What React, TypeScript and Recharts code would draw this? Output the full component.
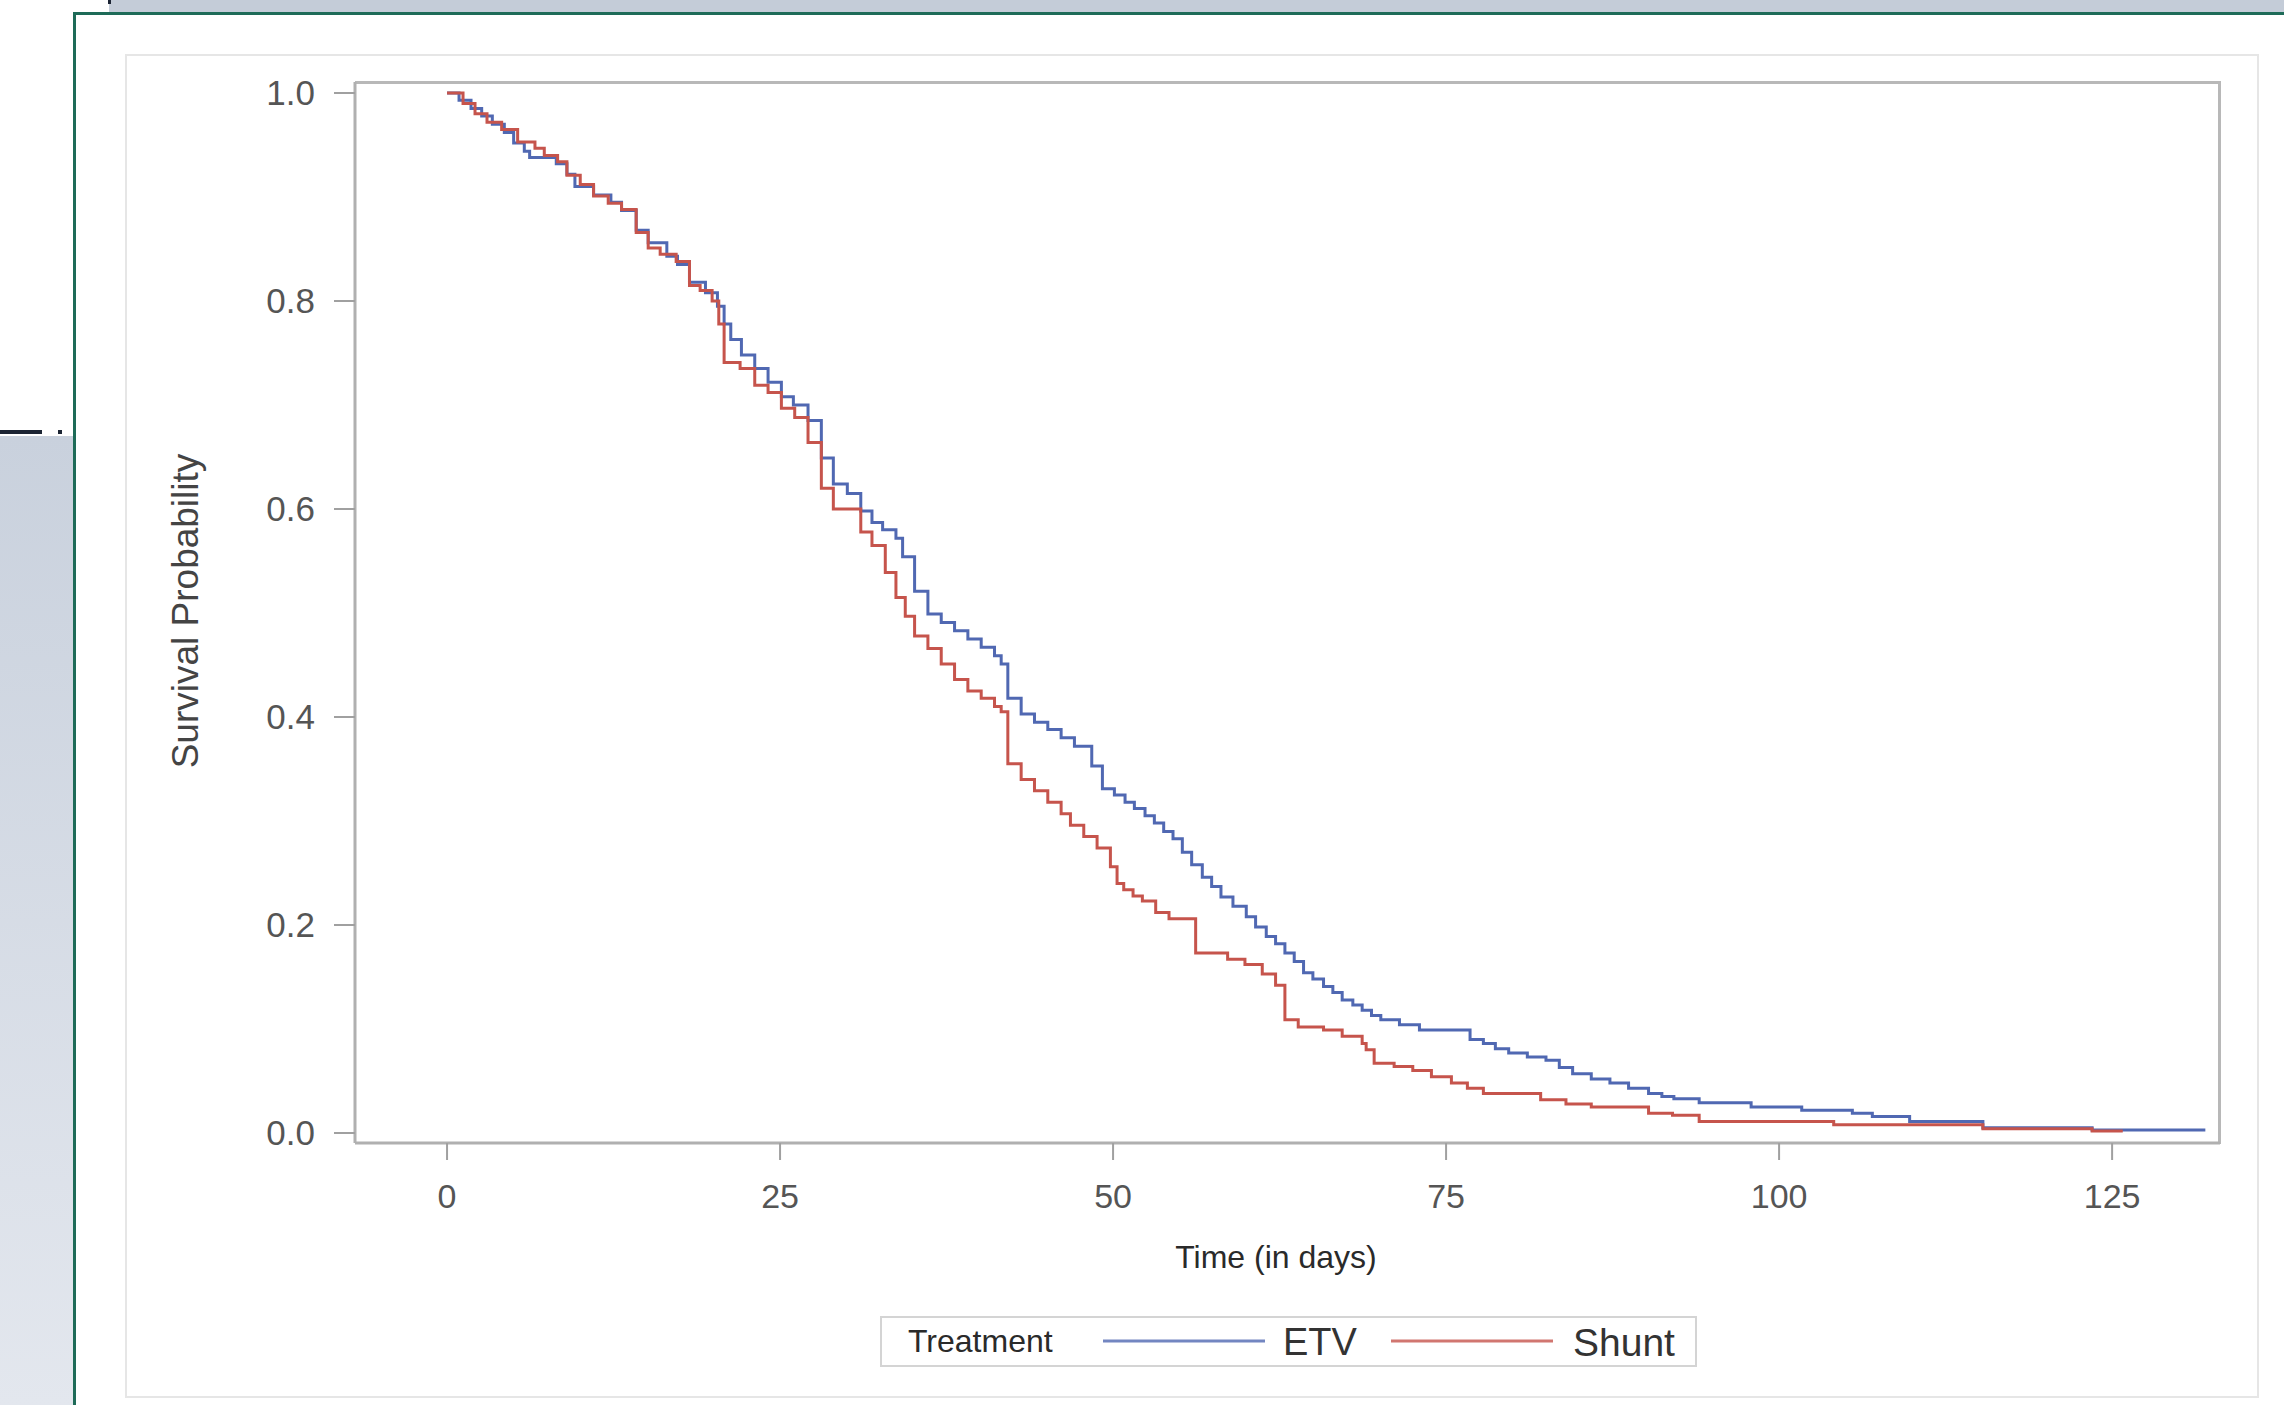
import React from 'react';
import { LineChart, Line, XAxis, YAxis, Legend } from 'recharts';

// ---- data ----
const etvTimes = [0, 0.9, 1.8, 2.6, 3.4, 4.3, 5.0, 5.8, 6.2, 8.2, 9.0, 9.6, 11.0, 12.3, 13.1, 14.2, 15.1, 16.5, 17.3, 18.2, 19.4, 20.3, 20.8, 21.3, 22.1, 23.1, 24.1, 25.1, 26.0, 27.1, 28.1, 29.0, 30.05, 31.06, 31.9, 32.7, 33.7, 34.2, 35.1, 36.1, 37.1, 38.1, 39.1, 40.1, 41.1, 41.6, 42.1, 43.1, 44.1, 45.1, 46.1, 47.1, 48.4, 49.2, 50.1, 50.9, 51.6, 52.4, 53.1, 53.8, 54.5, 55.2, 55.9, 56.7, 57.4, 58.1, 59.0, 60.0, 60.7, 61.5, 62.2, 62.9, 63.6, 64.3, 65.0, 65.8, 66.5, 67.2, 68.0, 68.7, 69.4, 70.1, 71.5, 73.0, 76.8, 77.8, 78.7, 79.7, 81.1, 82.5, 83.5, 84.5, 85.9, 87.3, 88.7, 90.2, 91.2, 92.1, 94.0, 97.9, 101.7, 105.5, 107.0, 109.8, 115.3, 123.5, 132.0];
const etvSurvival = [1.0, 0.993, 0.985, 0.978, 0.97, 0.962, 0.952, 0.944, 0.938, 0.932, 0.922, 0.91, 0.902, 0.895, 0.887, 0.868, 0.856, 0.843, 0.835, 0.818, 0.808, 0.795, 0.778, 0.763, 0.748, 0.735, 0.722, 0.708, 0.7, 0.685, 0.649, 0.624, 0.615, 0.598, 0.587, 0.58, 0.572, 0.554, 0.521, 0.499, 0.491, 0.483, 0.475, 0.467, 0.459, 0.451, 0.418, 0.403, 0.395, 0.388, 0.38, 0.372, 0.353, 0.331, 0.325, 0.318, 0.312, 0.305, 0.298, 0.29, 0.283, 0.27, 0.258, 0.246, 0.237, 0.227, 0.218, 0.208, 0.198, 0.189, 0.182, 0.173, 0.165, 0.154, 0.148, 0.141, 0.135, 0.128, 0.123, 0.118, 0.113, 0.109, 0.104, 0.099, 0.09, 0.086, 0.081, 0.077, 0.073, 0.07, 0.063, 0.057, 0.052, 0.048, 0.043, 0.038, 0.035, 0.033, 0.029, 0.025, 0.022, 0.019, 0.016, 0.011, 0.005, 0.003, 0.003];

const shuntTimes = [0, 1.2, 2.1, 3.0, 4.1, 5.3, 6.6, 7.3, 8.3, 9.0, 10.0, 11.0, 12.1, 13.1, 14.2, 15.1, 16.0, 17.2, 18.2, 19.0, 19.9, 20.4, 20.8, 22.0, 23.1, 24.1, 25.1, 26.1, 27.1, 28.1, 29.0, 31.06, 31.9, 32.9, 33.7, 34.4, 35.1, 36.1, 37.1, 38.1, 39.1, 40.1, 41.1, 41.6, 42.1, 43.1, 44.1, 45.1, 46.1, 46.8, 47.8, 48.8, 49.8, 50.3, 50.8, 51.5, 52.2, 53.2, 54.2, 56.2, 58.6, 59.9, 61.2, 62.2, 62.9, 63.9, 65.8, 67.2, 68.7, 69.0, 69.6, 71.1, 72.5, 73.9, 75.4, 76.6, 77.8, 82.1, 84.0, 85.9, 90.2, 92.0, 94.0, 104.1, 115.3, 123.5, 125.8];
const shuntSurvival = [1.0, 0.99, 0.98, 0.972, 0.965, 0.953, 0.947, 0.94, 0.934, 0.921, 0.912, 0.901, 0.894, 0.888, 0.866, 0.851, 0.845, 0.838, 0.815, 0.81, 0.8, 0.778, 0.741, 0.735, 0.719, 0.712, 0.697, 0.688, 0.664, 0.62, 0.6, 0.578, 0.565, 0.539, 0.515, 0.497, 0.478, 0.466, 0.451, 0.436, 0.425, 0.418, 0.41, 0.405, 0.355, 0.34, 0.329, 0.318, 0.307, 0.296, 0.285, 0.274, 0.256, 0.24, 0.234, 0.228, 0.223, 0.212, 0.206, 0.173, 0.167, 0.162, 0.153, 0.142, 0.109, 0.102, 0.099, 0.093, 0.086, 0.08, 0.067, 0.064, 0.06, 0.054, 0.048, 0.043, 0.038, 0.032, 0.028, 0.025, 0.019, 0.017, 0.011, 0.008, 0.004, 0.002, 0.002];

const xTicks = [0, 25, 50, 75, 100, 125];
const yTicks = [0, 0.2, 0.4, 0.6, 0.8, 1.0];
const seriesNames = ['ETV', 'Shunt'];
const seriesColors = ['#5068b2', '#c6544c'];
const legendTitle = 'Treatment';
const xTitle = 'Time (in days)';
const yTitle = 'Survival Probability';

const etvData = etvTimes.map((t, i) => ({ t, s: etvSurvival[i] }));
const shuntData = shuntTimes.map((t, i) => ({ t, s: shuntSurvival[i] }));

const FONT = '"Liberation Sans", Arial, Helvetica, sans-serif';

const LegendBox = () => (
  <div
    style={{
      position: 'relative',
      width: 817,
      height: 51,
      boxSizing: 'border-box',
      border: '2px solid #d4d4d4',
      background: '#fff',
      fontFamily: FONT,
    }}
  >
    <div style={{ position: 'absolute', left: 26, top: 0, height: 47, lineHeight: '47px', fontSize: 32, color: '#2a2a2a' }}>
      {legendTitle}
    </div>
    <svg style={{ position: 'absolute', left: 221, top: 20 }} width={162} height={6}>
      <line x1={0} y1={3} x2={162} y2={3} stroke={seriesColors[0]} strokeWidth={3} strokeOpacity={0.8} />
    </svg>
    <div style={{ position: 'absolute', left: 401, top: 0, height: 49, lineHeight: '49px', fontSize: 38, color: '#333' }}>
      {seriesNames[0]}
    </div>
    <svg style={{ position: 'absolute', left: 509, top: 20 }} width={162} height={6}>
      <line x1={0} y1={3} x2={162} y2={3} stroke={seriesColors[1]} strokeWidth={3} strokeOpacity={0.8} />
    </svg>
    <div style={{ position: 'absolute', left: 691, top: 0, height: 49, lineHeight: '49px', fontSize: 39, color: '#333' }}>
      {seriesNames[1]}
    </div>
  </div>
);

export default function App() {
  return (
    <div style={{ position: 'absolute', left: 0, top: 0, width: 2284, height: 1405, background: '#fff', overflow: 'hidden', fontFamily: FONT }}>
      {/* page decorations */}
      <div style={{ position: 'absolute', left: 109, top: 0, width: 2175, height: 13, background: '#c4ccd8' }} />
      <div style={{ position: 'absolute', left: 108, top: 0, width: 3, height: 4, background: '#1c2433' }} />
      <div
        style={{
          position: 'absolute', left: 0, top: 436, width: 73, height: 969,
          background: 'linear-gradient(#c9d1dd, #e3e7ee)',
        }}
      />
      <div style={{ position: 'absolute', left: 0, top: 430, width: 42, height: 4, background: '#1c2433' }} />
      <div style={{ position: 'absolute', left: 58, top: 430, width: 4, height: 4, background: '#1c2433' }} />
      <div style={{ position: 'absolute', left: 73, top: 12, width: 2211, height: 3, background: '#1e6b58' }} />
      <div style={{ position: 'absolute', left: 73, top: 12, width: 3, height: 1393, background: '#1e6b58' }} />
      {/* outer graph frame */}
      <div style={{ position: 'absolute', left: 125, top: 54, width: 2134, height: 1344, boxSizing: 'border-box', border: '2px solid #e6e6e6' }} />
      {/* plot frame top/right */}
      <div style={{ position: 'absolute', left: 355, top: 81, width: 1866, height: 1063, boxSizing: 'border-box', borderTop: '3px solid #b8b8b8', borderRight: '3px solid #b8b8b8' }} />

      <div style={{ position: 'absolute', left: 0, top: 0 }}>
        <LineChart
          width={2284}
          height={1405}
          margin={{ top: 82, right: 64, bottom: 261, left: 354 }}
          style={{ fontFamily: FONT }}
        >
          <XAxis
            dataKey="t"
            type="number"
            domain={[-6.91, 133.1]}
            allowDataOverflow
            ticks={xTicks}
            height={1}
            tickSize={17}
            tickMargin={24}
            axisLine={{ stroke: '#b0b0b0', strokeWidth: 3 }}
            tickLine={{ stroke: '#a0a0a0', strokeWidth: 2 }}
            tick={{ fontSize: 34, fill: '#555' }}
          />
          <YAxis
            type="number"
            domain={[-0.0096, 1.0106]}
            allowDataOverflow
            ticks={yTicks}
            width={1}
            tickSize={21}
            tickMargin={19}
            tickFormatter={(v: number) => v.toFixed(1)}
            axisLine={{ stroke: '#b0b0b0', strokeWidth: 3 }}
            tickLine={{ stroke: '#a0a0a0', strokeWidth: 2 }}
            tick={{ fontSize: 35, fill: '#555' }}
          />
          <Line
            data={etvData}
            dataKey="s"
            name={seriesNames[0]}
            type="stepAfter"
            stroke={seriesColors[0]}
            strokeWidth={3}
            dot={false}
            activeDot={false}
            isAnimationActive={false}
          />
          <Line
            data={shuntData}
            dataKey="s"
            name={seriesNames[1]}
            type="stepAfter"
            stroke={seriesColors[1]}
            strokeWidth={3}
            dot={false}
            activeDot={false}
            isAnimationActive={false}
          />
          <Legend
            layout="horizontal"
            verticalAlign="middle"
            align="center"
            wrapperStyle={{ position: 'absolute', left: 880, top: 1316, width: 817, height: 51 }}
            content={() => <LegendBox />}
          />
        </LineChart>
      </div>

      {/* axis titles */}
      <div
        style={{
          position: 'absolute', left: 186, top: 611, transform: 'translate(-50%, -50%) rotate(-90deg)',
          whiteSpace: 'nowrap', fontSize: 37, color: '#444', fontFamily: FONT,
        }}
      >
        {yTitle}
      </div>
      <div
        style={{
          position: 'absolute', left: 1276, top: 1257, transform: 'translate(-50%, -50%)',
          whiteSpace: 'nowrap', fontSize: 32, color: '#2a2a2a', fontFamily: FONT,
        }}
      >
        {xTitle}
      </div>
    </div>
  );
}
